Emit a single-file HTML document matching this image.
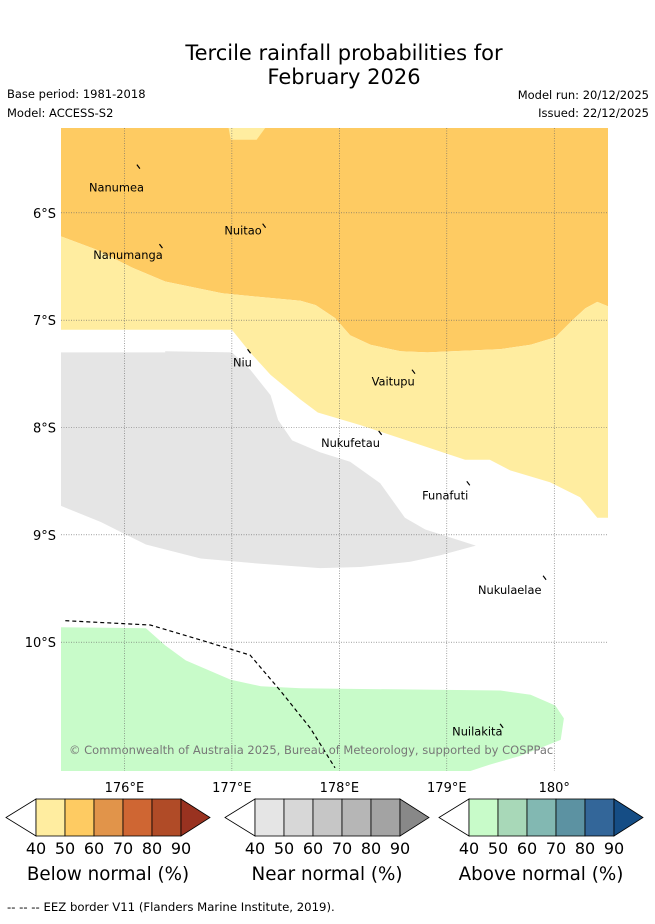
<!DOCTYPE html>
<html><head><meta charset="utf-8">
<style>
html,body{margin:0;padding:0;background:#fff;}
body{width:655px;height:919px;overflow:hidden;font-family:"Liberation Sans","DejaVu Sans",sans-serif;}
svg text{font-family:"DejaVu Sans","Liberation Sans",sans-serif;}
</style></head>
<body>
<svg id="chart" width="655" height="919" xmlns="http://www.w3.org/2000/svg">
<text x="344" y="60" font-size="21" text-anchor="middle">Tercile rainfall probabilities for</text>
<text x="344" y="84" font-size="21" text-anchor="middle">February 2026</text>
<text x="7" y="98" font-size="11.5">Base period: 1981-2018</text>
<text x="7" y="117" font-size="11.5">Model: ACCESS-S2</text>
<text x="649" y="99" font-size="11.5" text-anchor="end">Model run: 20/12/2025</text>
<text x="649" y="117" font-size="11.5" text-anchor="end">Issued: 22/12/2025</text>
<g id="map"></g>
<g id="cbars"></g>
<text x="7" y="911" font-size="11.7">--  --  -- EEZ border V11 (Flanders Marine Institute, 2019).</text>
</svg>
<script>
// axis domain
const lonMin = 175.41, lonMax = 180.50, latTop = 5.21, latBot = 11.20; // lat in degrees South
const xTicks = [176, 177, 178, 179, 180];
const xTickLabels = ["176°E", "177°E", "178°E", "179°E", "180°"];
const yTicks = [6, 7, 8, 9, 10];
const yTickLabels = ["6°S", "7°S", "8°S", "9°S", "10°S"];
// boundary between 50-60 and 40-50 below-normal
const orangeEdge = [[175.41,6.22],[175.73,6.34],[176.07,6.51],[176.38,6.64],[176.91,6.75],[177.64,6.82],[177.78,6.86],[177.96,6.98],[178.10,7.14],[178.29,7.23],[178.57,7.29],[178.82,7.30],[179.50,7.27],[179.78,7.23],[180.01,7.16],[180.17,7.00],[180.29,6.89],[180.40,6.83],[180.50,6.87]];
const belowLightPatch = [[176.97,5.21],[177.31,5.21],[177.23,5.32],[176.99,5.32]];
const belowLightBottom = [[180.50,8.84],[180.40,8.84],[180.24,8.65],[179.96,8.51],[179.59,8.40],[179.40,8.30],[179.17,8.30],[178.75,8.16],[178.20,7.98],[177.80,7.86],[177.64,7.74],[177.36,7.51],[177.17,7.30],[177.00,7.09],[175.41,7.09]];
const nearLight = [[175.41,7.30],[176.38,7.30],[176.38,7.29],[177.00,7.30],[177.17,7.46],[177.36,7.70],[177.43,7.93],[177.56,8.12],[177.82,8.23],[178.10,8.32],[178.38,8.52],[178.61,8.84],[178.80,8.95],[179.27,9.10],[178.94,9.19],[178.66,9.25],[178.20,9.30],[177.82,9.31],[177.27,9.27],[176.71,9.22],[176.20,9.09],[175.78,8.88],[175.41,8.73]];
const aboveLight = [[175.41,9.86],[176.20,9.87],[176.38,10.03],[176.57,10.17],[176.99,10.35],[177.27,10.41],[177.64,10.43],[179.50,10.45],[179.78,10.49],[180.01,10.59],[180.09,10.71],[180.06,10.91],[179.68,11.06],[179.40,11.14],[179.22,11.20],[175.41,11.20]];
const eezLine = [[175.45,9.80],[176.24,9.84],[176.71,9.98],[177.17,10.12],[177.45,10.45],[177.73,10.80],[177.96,11.17]];
// name, label lon, label lat(baseline), marker lon, marker lat
const places = [["Nanumea",175.67,5.80,176.13,5.57],["Nuitao",176.93,6.20,177.30,6.12],["Nanumanga",175.71,6.43,176.34,6.31],["Niu",177.01,7.43,177.16,7.29],["Vaitupu",178.30,7.61,178.69,7.48],["Nukufetau",177.83,8.18,178.38,8.05],["Funafuti",178.77,8.67,179.20,8.52],["Nukulaelae",179.29,9.55,179.91,9.40],["Nuilakita",179.05,10.87,179.51,10.78]];
const cbLabels = ["40","50","60","70","80","90"];
const cbTitles = ["Below normal (%)","Near normal (%)","Above normal (%)"];
const cbColors = [["#fff","#ffeda0","#fecb62","#e1944a","#cf6633","#b04b27","#993220"],["#fff","#e5e5e5","#d7d7d7","#c6c6c6","#b6b6b6","#a3a3a3","#888888"],["#fff","#c8fbc9","#a8d8b8","#82b8b2","#5c92a2","#336699","#154d85"]];

const X0=61, X1=608, Y0=128, Y1=771;
const xs = l => X0 + (l-lonMin)/(lonMax-lonMin)*(X1-X0);
const ys = l => Y0 + (l-latTop)/(latBot-latTop)*(Y1-Y0);
const NS="http://www.w3.org/2000/svg";
const map=document.getElementById('map');
function mk(tag, attrs, parent){const e=document.createElementNS(NS,tag);for(const k in attrs)e.setAttribute(k,attrs[k]);parent.appendChild(e);return e;}
function poly(pts, fill, name){
  const e=mk('polygon',{points:pts.map(p=>xs(p[0]).toFixed(1)+','+ys(p[1]).toFixed(1)).join(' '),fill:fill},map);
  
  
}
poly([[lonMin,latTop],[lonMax,latTop]].concat(orangeEdge.slice().reverse()),'#fecb62','below-normal-50-60-region');
poly(orangeEdge.concat(belowLightBottom),'#ffeda0','below-normal-40-50-region');
poly(belowLightPatch,'#ffeda0','below-normal-40-50-patch');
poly(nearLight,'#e5e5e5','near-normal-40-50-region');
poly(aboveLight,'#c8fbc9','above-normal-40-50-region');
// gridlines
xTicks.forEach((t,i)=>{
  const g=mk('line',{x1:xs(t),x2:xs(t),y1:Y0,y2:Y1,stroke:'#666','stroke-width':0.6,'stroke-dasharray':'1,1.5'},map);
  
  
  const tx=mk('text',{x:xs(t),y:792,'font-size':13,'text-anchor':'middle'},map);
  tx.textContent=xTickLabels[i];
  
  
});
yTicks.forEach((t,i)=>{
  const g=mk('line',{x1:X0,x2:X1,y1:ys(t),y2:ys(t),stroke:'#666','stroke-width':0.6,'stroke-dasharray':'1,1.5'},map);
  
  
  const tx=mk('text',{x:56,y:ys(t)+5,'font-size':13,'text-anchor':'end'},map);
  tx.textContent=yTickLabels[i];
  
  
});
// EEZ
const ez=mk('polyline',{points:eezLine.map(p=>xs(p[0]).toFixed(1)+','+ys(p[1]).toFixed(1)).join(' '),fill:'none',stroke:'#000','stroke-width':1.2,'stroke-dasharray':'4,3'},map);


// places
places.forEach(p=>{
  const t=mk('text',{x:xs(p[1]),y:ys(p[2]),'font-size':11.4},map);
  t.textContent=p[0];
  
  
  const m=mk('line',{x1:xs(p[3])-1.5,y1:ys(p[4])-2,x2:xs(p[3])+1.5,y2:ys(p[4])+2,stroke:'#000','stroke-width':1.2},map);
  
  
});
const cp=mk('text',{x:69,y:754,'font-size':11.5,fill:'#777'},map);
cp.textContent='© Commonwealth of Australia 2025, Bureau of Meteorology, supported by COSPPac';


// colorbars
const cb=document.getElementById('cbars');
const cbLeft=[6,225,439];
cbLeft.forEach((L,k)=>{
  const yT=799,yB=836,yM=817.5,w=29,r0=L+30;
  const t0=mk('polygon',{points:`${L},${yM} ${r0},${yT} ${r0},${yB}`,fill:cbColors[k][0],stroke:'#000','stroke-width':0.8},cb);
  
  
  for(let i=0;i<5;i++){
    const r=mk('rect',{x:r0+i*w,y:yT,width:w,height:yB-yT,fill:cbColors[k][i+1],stroke:'#000','stroke-width':0.8},cb);
    
    
  }
  const e=r0+5*w;
  const t1=mk('polygon',{points:`${e},${yT} ${e+29},${yM} ${e},${yB}`,fill:cbColors[k][6],stroke:'#000','stroke-width':0.8},cb);
  
  
  cbLabels.forEach((lab,i)=>{
    const t=mk('text',{x:r0+i*w,y:854,'font-size':16,'text-anchor':'middle'},cb);
    t.textContent=lab;
    
    
  });
  const tt=mk('text',{x:L+102,y:880,'font-size':18.3,'text-anchor':'middle'},cb);
  tt.textContent=cbTitles[k];
  
  
});
</script>
</body></html>
